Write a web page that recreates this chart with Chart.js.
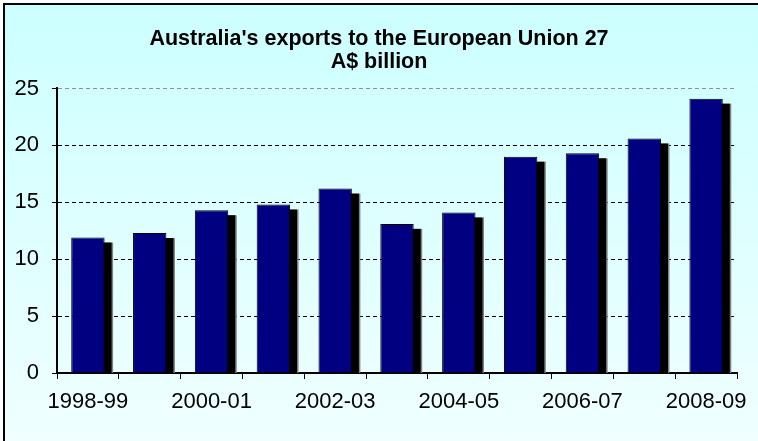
<!DOCTYPE html>
<html lang="en">

<head>
   <meta charset="UTF-8">
   <title>Australia's exports to the European Union 27</title>
   <script src="https://cdn.jsdelivr.net/npm/chart.js@4.4.1/dist/chart.umd.min.js"></script>
   <style>
      html, body { margin: 0; padding: 0; width: 758px; height: 441px; overflow: hidden; }
      .frame {
         position: absolute; left: 3px; top: 3px; width: 755px; height: 438px;
         border-left: 2px solid #000; border-top: 2px solid #000;
         background: linear-gradient(#ccffff, #f0ffff);
      }
      .chart-container { position: absolute; left: 0; top: 0; width: 758px; height: 441px; }
   </style>
</head>

<body>
   <div class="frame"></div>
   <div class="chart-container">
      <canvas id="myChart"></canvas>
   </div>

   <script>
      const categories = ['1998-99', '1999-00', '2000-01', '2001-02', '2002-03', '2003-04',
         '2004-05', '2005-06', '2006-07', '2007-08', '2008-09'];
      const exportsBn = [11.9, 12.3, 14.3, 14.8, 16.2, 13.1, 14.1, 19.0, 19.3, 20.6, 24.1];
      const yTicks = [0, 5, 10, 15, 20, 25];
      const titleLines = ["Australia's exports to the European Union 27", 'A$ billion'];

      // black offset block behind each bar (the "3D" shadow), kept inside the plot area
      const barShadow = {
         id: 'barShadow',
         beforeDatasetsDraw(chart) {
            const ctx = chart.ctx;
            const a = chart.chartArea;
            const dx = 7, dy = 5;
            ctx.save();
            ctx.beginPath();
            ctx.rect(a.left, a.top, a.right - a.left, a.bottom - a.top);
            ctx.clip();
            chart.getDatasetMeta(0).data.forEach(bar => {
               const p = bar.getProps(['x', 'y', 'base', 'width'], true);
               const left = p.x - p.width / 2 + dx;
               ctx.fillStyle = '#808080';
               ctx.fillRect(left, p.y + dy, p.width + 1.5, p.base - p.y);
               ctx.fillStyle = '#000';
               ctx.fillRect(left, p.y + dy, p.width, p.base - p.y);
            });
            ctx.restore();
         }
      };

      const tickFont = { family: 'Arial, "Liberation Sans", sans-serif', size: 22 };

      const config = {
         type: 'bar',
         data: {
            labels: categories,
            datasets: [{
               data: exportsBn,
               backgroundColor: '#000080',
               borderColor: '#000',
               borderWidth: 1,
               barPercentage: 0.54,
               categoryPercentage: 1
            }]
         },
         options: {
            responsive: true,
            maintainAspectRatio: false,
            animation: false,
            layout: { padding: 0 },
            plugins: {
               legend: { display: false },
               tooltip: { enabled: false },
               title: {
                  display: true,
                  text: titleLines,
                  color: '#000',
                  font: { family: 'Arial, "Liberation Sans", sans-serif', size: 21.5, weight: 'bold', lineHeight: 1.08 },
                  padding: { top: 27, bottom: 15 }
               }
            },
            scales: {
               x: {
                  offset: true,
                  grid: {
                     offset: true,
                     drawOnChartArea: true,
                     color: c => c.index === categories.length ? '#808080' : 'rgba(0,0,0,0)',
                     lineWidth: 1,
                     tickColor: '#000',
                     tickLength: 6
                  },
                  border: { color: '#000', width: 2 },
                  ticks: {
                     autoSkip: false,
                     maxRotation: 0,
                     color: '#000',
                     font: tickFont,
                     padding: 10,
                     callback: function (v, i) { return i % 2 === 0 ? categories[i] : ''; }
                  },
                  afterFit: s => { s.height = 68; }
               },
               y: {
                  min: 0,
                  max: 25,
                  afterBuildTicks: s => { s.ticks = yTicks.map(v => ({ value: v })); },
                  grid: {
                     color: c => c.tick.value === 25 ? '#909090' : (c.tick.value === 0 ? 'rgba(0,0,0,0)' : '#000'),
                     lineWidth: 1,
                     tickColor: '#000',
                     tickLength: 5
                  },
                  border: { color: '#000', width: 2, dash: [4, 3] },
                  ticks: { color: '#000', font: tickFont, padding: 13 },
                  afterFit: s => { s.width = 57; }
               },
               // empty right-hand strip so the plot ends where the original does
               yRight: {
                  position: 'right',
                  min: 0,
                  max: 25,
                  grid: { display: false },
                  border: { display: false },
                  ticks: { display: false },
                  afterFit: s => { s.width = 21; }
               }
            }
         },
         plugins: [barShadow]
      };

      const ctx = document.getElementById('myChart').getContext('2d');
      const chart = new Chart(ctx, config);
   </script>
</body>

</html>
